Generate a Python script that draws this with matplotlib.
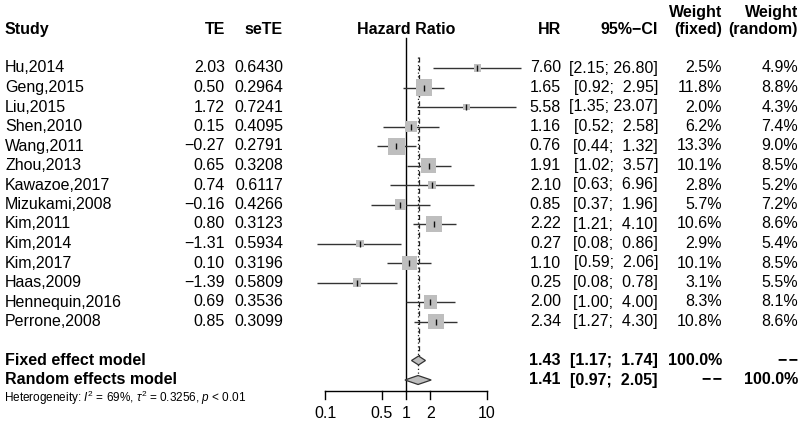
import matplotlib
matplotlib.use('Agg')
import matplotlib.pyplot as plt
from matplotlib.transforms import blended_transform_factory
from matplotlib.patches import Polygon
import numpy as np

plt.rcParams['font.family'] = ['Liberation Sans', 'DejaVu Sans']
plt.rcParams['mathtext.fontset'] = 'custom'
plt.rcParams['mathtext.rm'] = 'Liberation Sans'
plt.rcParams['mathtext.it'] = 'Liberation Sans:italic'
plt.rcParams['mathtext.bf'] = 'Liberation Sans:bold'

# ---------------- data ----------------
studies = ["Hu,2014", "Geng,2015", "Liu,2015", "Shen,2010", "Wang,2011", "Zhou,2013",
           "Kawazoe,2017", "Mizukami,2008", "Kim,2011", "Kim,2014", "Kim,2017",
           "Haas,2009", "Hennequin,2016", "Perrone,2008"]
te = [2.03, 0.50, 1.72, 0.15, -0.27, 0.65, 0.74, -0.16, 0.80, -1.31, 0.10, -1.39, 0.69, 0.85]
sete = [0.6430, 0.2964, 0.7241, 0.4095, 0.2791, 0.3208, 0.6117, 0.4266, 0.3123, 0.5934,
        0.3196, 0.5809, 0.3536, 0.3099]
hr = [7.60, 1.65, 5.58, 1.16, 0.76, 1.91, 2.10, 0.85, 2.22, 0.27, 1.10, 0.25, 2.00, 2.34]
ci_lo = [2.15, 0.92, 1.35, 0.52, 0.44, 1.02, 0.63, 0.37, 1.21, 0.08, 0.59, 0.08, 1.00, 1.27]
ci_hi = [26.80, 2.95, 23.07, 2.58, 1.32, 3.57, 6.96, 1.96, 4.10, 0.86, 2.06, 0.78, 4.00, 4.30]
w_fixed = [2.5, 11.8, 2.0, 6.2, 13.3, 10.1, 2.8, 5.7, 10.6, 2.9, 10.1, 3.1, 8.3, 10.8]
w_random = [4.9, 8.8, 4.3, 7.4, 9.0, 8.5, 5.2, 7.2, 8.6, 5.4, 8.5, 5.5, 8.1, 8.6]

fixed_hr, fixed_lo, fixed_hi = 1.43, 1.17, 1.74
random_hr, random_lo, random_hi = 1.41, 0.97, 2.05

x_ticks = [0.1, 0.5, 1, 2, 10]
x_tick_labels = ["0.1", "0.5", "1", "2", "10"]
het_text = r"Heterogeneity: $I^2$ = 69%, $\tau^2$ = 0.3256, $p$ < 0.01"

# ---------------- layout ----------------
W, H = 800, 425
fig = plt.figure(figsize=(W / 100, H / 100), dpi=100)
ax = fig.add_axes([0, 0, 1, 1])
ax.set_xscale('log')
x0_px, dec_px = 406.0, 80.85          # pixel of HR=1, pixels per decade
ax.set_xlim(10 ** (-x0_px / dec_px), 10 ** ((W - x0_px) / dec_px))
y0_px, row_px = 68.0, 19.5
ax.set_ylim((H - y0_px) / row_px, -y0_px / row_px)
ax.axis('off')

tr = blended_transform_factory(fig.transFigure, ax.transData)
FS = 11.5


def px(x):
    return x / W


def fmt_num(v, f):
    s = format(v, f)
    return s.replace('-', '\u2212')


DASH2 = "\u2212\u200a\u2212"

# headers
hdr_row = -1.95
hdr_row2 = -2.87
kw_b = dict(fontsize=FS, fontweight='bold', transform=tr, va='center')
ax.text(px(5), hdr_row, "Study", ha='left', **kw_b)
ax.text(px(225), hdr_row, "TE", ha='right', **kw_b)
ax.text(px(283), hdr_row, "seTE", ha='right', **kw_b)
ax.text(px(406), hdr_row, "Hazard Ratio", ha='center', **kw_b)
ax.text(px(561), hdr_row, "HR", ha='right', **kw_b)
ax.text(px(658), hdr_row, "95%\u2212CI", ha='right', **kw_b)
ax.text(px(722), hdr_row2, "Weight", ha='right', **kw_b)
ax.text(px(722), hdr_row, "(fixed)", ha='right', **kw_b)
ax.text(px(798), hdr_row2, "Weight", ha='right', **kw_b)
ax.text(px(798), hdr_row, "(random)", ha='right', **kw_b)

kw = dict(fontsize=FS, transform=tr, va='center')
rows = np.arange(len(studies))
max_side_px = 17.0
for i, r in enumerate(rows):
    ax.text(px(5), r, studies[i], ha='left', **kw)
    ax.text(px(225), r, fmt_num(te[i], '.2f'), ha='right', **kw)
    ax.text(px(283), r, fmt_num(sete[i], '.4f'), ha='right', **kw)
    ax.text(px(561), r, f"{hr[i]:.2f}", ha='right', **kw)
    ax.text(px(658), r, f"[{ci_lo[i]:.2f}; {ci_hi[i]:5.2f}]", ha='right', **kw)
    ax.text(px(722), r, f"{w_fixed[i]:.1f}%", ha='right', **kw)
    ax.text(px(798), r, f"{w_random[i]:.1f}%", ha='right', **kw)
    # CI line
    ax.plot([ci_lo[i], ci_hi[i]], [r, r], color='#333333', lw=1.0, solid_capstyle='butt', zorder=2)

# squares sized by fixed weight (area proportional)
side = max_side_px * np.sqrt(np.array(w_fixed) / max(w_fixed)) * 72 / 100
ax.scatter(hr, rows, s=side ** 2, marker='s', color='#BEBEBE', edgecolors='none', zorder=3)
ax.scatter(hr, rows, s=22, marker='|', color='#111111', linewidths=1.0, zorder=4)

# summary rows
fix_row, ran_row = 15, 16
dh = 0.23
for (est, lo, hi, r) in [(fixed_hr, fixed_lo, fixed_hi, fix_row), (random_hr, random_lo, random_hi, ran_row)]:
    poly = Polygon([(lo, r), (est, r - dh), (hi, r), (est, r + dh)], closed=True,
                   facecolor='#BEBEBE', edgecolor='#333333', lw=0.9, zorder=3)
    ax.add_patch(poly)

ax.text(px(5), fix_row, "Fixed effect model", ha='left', **kw_b)
ax.text(px(5), ran_row, "Random effects model", ha='left', **kw_b)
ax.text(px(561), fix_row, f"{fixed_hr:.2f}", ha='right', **kw_b)
ax.text(px(658), fix_row, f"[{fixed_lo:.2f}; {fixed_hi:5.2f}]", ha='right', **kw_b)
ax.text(px(722), fix_row, "100.0%", ha='right', **kw_b)
ax.text(px(798), fix_row, DASH2, ha='right', **kw_b)
ax.text(px(561), ran_row, f"{random_hr:.2f}", ha='right', **kw_b)
ax.text(px(658), ran_row, f"[{random_lo:.2f}; {random_hi:5.2f}]", ha='right', **kw_b)
ax.text(px(722), ran_row, DASH2, ha='right', **kw_b)
ax.text(px(798), ran_row, "100.0%", ha='right', **kw_b)

# heterogeneity
het_row = 16.92
ax.text(px(4), het_row, het_text, ha='left', fontsize=8.5, transform=tr, va='center')

# reference lines
top_line = -1.54
axis_row = 16.56
ax.plot([1, 1], [top_line, axis_row], color='black', lw=1.0, zorder=1)
ax.plot([fixed_hr, fixed_hr], [-0.56, fix_row - dh], color='#222222', lw=0.9,
        linestyle=(0, (4, 3)), zorder=1)
ax.plot([random_hr, random_hr], [-0.56, ran_row - dh], color='#222222', lw=0.9,
        linestyle=(0, (1, 2)), zorder=1)

# x axis
ax.plot([x_ticks[0], x_ticks[-1]], [axis_row, axis_row], color='black', lw=1.0)
for t, lab in zip(x_ticks, x_tick_labels):
    ax.plot([t, t], [axis_row, axis_row + 0.42], color='black', lw=1.0)
    ax.text(t, 17.7, lab, ha='center', va='center', fontsize=FS)

fig.savefig('out.png', dpi=100)
